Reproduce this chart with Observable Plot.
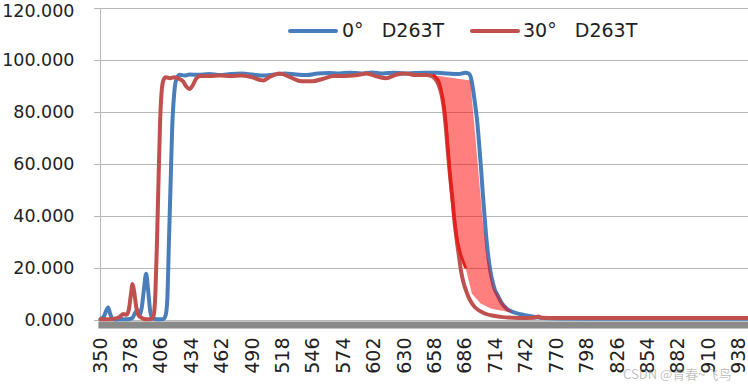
<!DOCTYPE html>
<html>
<head>
<meta charset="utf-8">
<script src="https://cdn.jsdelivr.net/npm/d3@7"></script>
<script src="https://cdn.jsdelivr.net/npm/@observablehq/plot@0.6"></script>
<style>
  body { margin: 0; background: #fff; }
  #wrap { position: relative; width: 748px; height: 387px; overflow: hidden; font-family: "DejaVu Sans", sans-serif; }
  .sw { position: absolute; height: 4px; border-radius: 2px; }
  .lt { position: absolute; font-size: 19px; line-height: 19px; white-space: pre; color: #222; }
  .wm { position: absolute; font-family: "Noto Sans CJK SC", sans-serif; font-size: 13px; color: rgba(140,140,140,0.55); white-space: pre; }
</style>
</head>
<body>
<div id="wrap"></div>
<script>
// ---- data ----
const seriesNames = ["0°\u00a0\u00a0\u00a0D263T", "30°\u00a0\u00a0\u00a0D263T"];
const seriesColors = ["#4a7ebb", "#c0504d"];

const wl0 = [350,353,355,357,359,361,365,370,375,379,382,384,386,388,390,392,394,396,398,402,408,410,411.5,413,414.5,416,418,420,423,427,432,440,450,460,470,480,490,500,510,520,530,540,550,560,570,580,590,600,610,620,630,640,650,660,670,680,686,689,691,693,695,697,699,700.5,702,703.5,705,707,709,711,713,716,719,724,730,737,745,755,770,800,850,900,946];
const t0  = [0.5,1.5,3.5,5,2.5,0.6,0.4,0.5,0.5,0.8,3,4,2,5,12,18,11,3,0.8,0.5,0.6,2,8,30,52,74,88,93,94.5,94.2,94.6,94.5,94.8,94.4,94.8,95,94.6,94.2,94.6,95,94.6,94.4,95,95.2,95,95.3,95,95.4,95,95.3,95,95.2,95.3,95.3,95,94.8,95.3,95,93.5,89,83,76,66,58,49,41,33,25,19,15,12,9.5,7,4.5,3.2,2.4,1.7,1.1,0.8,0.7,0.7,0.7,0.7];

const wl30 = [350,358,364,368,371,374,376,378,379.5,381,383,385,388,392,397,399,400.5,402,403.5,405,406.5,408,410,414,418,422,426,429,432,435,438,442,450,460,470,480,490,497,500,505,515,525,535,545,555,565,575,585,595,605,613,622,631,640,650,655,658,661,664,666,668,670,672,674,676,678,680,682,684,687,690,695,700,705,712,720,735,750,753,756,770,946];
const t30  = [0.5,0.5,0.8,1.5,2.5,2.2,4,10,14,11,5,2,1,0.5,0.6,2,10,30,55,78,89,92.5,93.6,93.2,93.6,93,92,90,89,90.5,93,94,94,94.2,94,94.2,93.5,92.5,92.3,93.5,95,93.5,92,92,93,94,94,94.3,95,93.8,93.2,94.5,95,94.4,94.4,94,93,91,87,82,74,64,55,47,38,31,25,19,15,11,8,5,3.5,2.5,1.8,1.3,1.0,1.1,1.5,1.1,1.0,1.0];

// highlighted band between the two edges (annotation shape)
const bandWl = [657,661,664,666.5,668.5,670.5,673,675.5,678.5,682,686,692,700,710,730,721,712,706,702,698,694,690.5];
const bandT  = [94.3,92.5,88,82,74,63,50,40,31,25,20.5,10.3,6.5,4.5,3.0,6.5,12.8,25,38,57,76,92.3];
const bandEdgeCount = 11;

const xTicks = [350,378,406,434,462,490,518,546,574,602,630,658,686,714,742,770,798,826,854,882,910,938];
const yTicks = [0,20,40,60,80,100,120];

// ---- build tables ----
const d0 = wl0.map((w, i) => ({wl: w, t: t0[i]}));
const d30 = wl30.map((w, i) => ({wl: w, t: t30[i]}));
const band = bandWl.map((w, i) => ({wl: w, t: bandT[i]}));
const bandEdge = band.slice(0, bandEdgeCount);

const pxPerNm = 1.086;
const xMax = 350 + 648 / pxPerNm;
const fmt = d3.format(".3f");
const yMax = d3.max(yTicks);

const chart = Plot.plot({
  width: 748,
  height: 387,
  marginLeft: 100,
  marginRight: 0,
  marginTop: 8,
  marginBottom: 67,
  x: {domain: [350, xMax], axis: null},
  y: {domain: [0, yMax], axis: null},
  style: {fontFamily: "DejaVu Sans, sans-serif", fontSize: "19px", background: "#fff", color: "#222", overflow: "visible"},
  marks: [
    Plot.ruleY(yTicks, {x1: 350 - 6 / pxPerNm, x2: xMax, stroke: "#b8b8b8", strokeWidth: 1}),
    Plot.ruleX([350], {y1: 0, y2: yMax, stroke: "#b8b8b8", strokeWidth: 1}),
    Plot.ruleY([0], {x1: 348.5, x2: xMax, stroke: "#8a8a8a", strokeWidth: 7, dy: 4.5}),
    Plot.line(d0, {x: "wl", y: "t", stroke: seriesColors[0], strokeWidth: 4, curve: "monotone-x"}),
    Plot.line(d30, {x: "wl", y: "t", stroke: seriesColors[1], strokeWidth: 4, curve: "monotone-x"}),
    Plot.line(band, {x: "wl", y: "t", fill: "#ff0000", fillOpacity: 0.5, stroke: "none", curve: "linear"}),
    Plot.line(bandEdge, {x: "wl", y: "t", stroke: "#e3201c", strokeWidth: 3, curve: "monotone-y"}),
    Plot.text(yTicks.filter(d => d < yMax), {x: 350, y: d => d, text: d => fmt(d), textAnchor: "end", dx: -26, fontSize: 17.5, fill: "#222"}),
    Plot.text(yTicks.filter(d => d === yMax), {x: 350, y: d => d, text: d => fmt(d), textAnchor: "end", dx: -26, dy: 3, fontSize: 17.5, fill: "#222"}),
    Plot.text(xTicks, {x: d => d, y: 0, text: d => String(d), rotate: -90, textAnchor: "end", lineAnchor: "middle", dy: 17, fill: "#222"})
  ]
});

const wrap = document.getElementById("wrap");
wrap.appendChild(chart);

// legend
const legendItems = [
  {sx: 288, tx: 342},
  {sx: 470, tx: 523}
];
legendItems.forEach((it, i) => {
  const sw = document.createElement("div");
  sw.className = "sw";
  sw.style.left = it.sx + "px";
  sw.style.top = "28.5px";
  sw.style.width = "50px";
  sw.style.background = seriesColors[i];
  wrap.appendChild(sw);
  const lt = document.createElement("div");
  lt.className = "lt";
  lt.style.left = it.tx + "px";
  lt.style.top = "21px";
  lt.textContent = seriesNames[i];
  wrap.appendChild(lt);
});

const wm = document.createElement("div");
wm.className = "wm";
wm.style.left = "623px";
wm.style.top = "364px";
wm.textContent = "CSDN @青春~飞鸟";
wrap.appendChild(wm);
</script>
</body>
</html>
